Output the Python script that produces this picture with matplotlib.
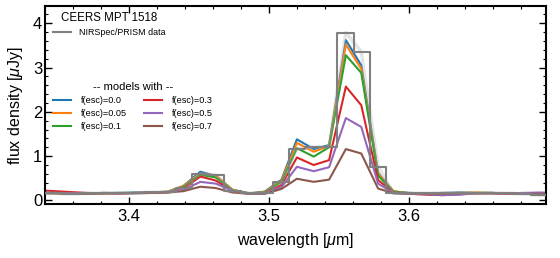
import matplotlib
import numpy as np

matplotlib.use('Agg')
import matplotlib.pyplot as plt
from matplotlib.ticker import MultipleLocator

plt.rcParams['font.family'] = ['Liberation Sans', 'DejaVu Sans']
plt.rcParams['mathtext.fontset'] = 'custom'
plt.rcParams['mathtext.it'] = 'Liberation Sans:italic'
plt.rcParams['mathtext.rm'] = 'Liberation Sans'

# pixel centres (micron)
wave = [3.335, 3.347, 3.358, 3.370, 3.382, 3.393, 3.405, 3.416, 3.428, 3.439,
        3.451, 3.462, 3.474, 3.486, 3.497, 3.509, 3.520, 3.532, 3.543, 3.555,
        3.566, 3.578, 3.589, 3.601, 3.613, 3.624, 3.636, 3.647, 3.659, 3.670,
        3.682, 3.693, 3.705]

# NIRSpec/PRISM data (uJy)
flux_data = [0.16, 0.16, 0.15, 0.16, 0.16, 0.17, 0.17, 0.18, 0.19, 0.28,
             0.60, 0.58, 0.21, 0.16, 0.17, 0.41, 1.17, 1.20, 1.21, 3.79,
             3.36, 0.76, 0.17, 0.16, 0.16, 0.17, 0.17, 0.16, 0.17, 0.16,
             0.15, 0.12, 0.12]

# models for each escape fraction
fesc_labels = ['f(esc)=0.0', 'f(esc)=0.05', 'f(esc)=0.1',
               'f(esc)=0.3', 'f(esc)=0.5', 'f(esc)=0.7']
model_f00 = [0.17, 0.17, 0.16, 0.16, 0.17, 0.17, 0.18, 0.18, 0.20, 0.33,
             0.65, 0.55, 0.24, 0.16, 0.20, 0.47, 1.38, 1.16, 1.25, 3.62,
             3.05, 0.62, 0.20, 0.17, 0.16, 0.17, 0.18, 0.17, 0.17, 0.16,
             0.16, 0.15, 0.15]
model_f005 = [0.17, 0.16, 0.15, 0.16, 0.17, 0.16, 0.17, 0.18, 0.20, 0.33,
              0.61, 0.56, 0.24, 0.16, 0.19, 0.45, 1.30, 1.10, 1.23, 3.52,
              2.97, 0.60, 0.21, 0.16, 0.15, 0.16, 0.17, 0.18, 0.17, 0.16,
              0.17, 0.16, 0.15]
model_f01 = [0.18, 0.17, 0.16, 0.15, 0.16, 0.17, 0.17, 0.18, 0.19, 0.31,
             0.58, 0.52, 0.23, 0.16, 0.18, 0.42, 1.18, 0.99, 1.20, 3.28,
             2.88, 0.56, 0.20, 0.16, 0.16, 0.16, 0.17, 0.17, 0.17, 0.16,
             0.16, 0.15, 0.15]
model_f03 = [0.23, 0.21, 0.19, 0.17, 0.16, 0.16, 0.17, 0.17, 0.18, 0.27,
             0.54, 0.45, 0.21, 0.15, 0.17, 0.35, 0.97, 0.80, 0.91, 2.57,
             2.15, 0.46, 0.18, 0.15, 0.13, 0.12, 0.14, 0.16, 0.16, 0.15,
             0.16, 0.16, 0.15]
model_f05 = [0.18, 0.17, 0.16, 0.16, 0.17, 0.16, 0.17, 0.18, 0.19, 0.24,
             0.42, 0.38, 0.22, 0.15, 0.16, 0.30, 0.76, 0.66, 0.75, 1.86,
             1.66, 0.38, 0.17, 0.15, 0.14, 0.12, 0.13, 0.16, 0.17, 0.16,
             0.17, 0.18, 0.17]
model_f07 = [0.16, 0.16, 0.15, 0.15, 0.16, 0.16, 0.16, 0.17, 0.18, 0.21,
             0.31, 0.28, 0.18, 0.15, 0.15, 0.26, 0.49, 0.42, 0.47, 1.16,
             1.06, 0.27, 0.16, 0.15, 0.15, 0.15, 0.16, 0.16, 0.16, 0.16,
             0.15, 0.15, 0.15]
models = [model_f00, model_f005, model_f01, model_f03, model_f05, model_f07]
colors = ['tab:blue', 'tab:orange', 'tab:green', 'tab:red', 'tab:purple', 'tab:brown']

fig = plt.figure(figsize=(5.6, 2.58), dpi=100)
ax = fig.add_axes([45 / 560, 54 / 258, 501 / 560, 198 / 258])

model_lines = []
for m, c, lab in zip(models, colors, fesc_labels):
    ln, = ax.plot(wave, m, color=c, lw=1.5, label=lab, zorder=2)
    model_lines.append(ln)

# faint unbinned trace of the data plus the stepped spectrum
ax.plot(wave, flux_data, color='0.65', lw=2.5, alpha=0.3, zorder=3)
data_line, = ax.plot(wave, flux_data, drawstyle='steps-mid', color='0.5',
                     lw=1.5, label='NIRSpec/PRISM data', zorder=4)

ax.set_xlim(3.34, 3.698)
ax.set_ylim(-0.08, 4.39)
ax.xaxis.set_major_locator(MultipleLocator(0.1))
ax.xaxis.set_minor_locator(MultipleLocator(0.02))
ax.yaxis.set_major_locator(MultipleLocator(1))
ax.yaxis.set_minor_locator(MultipleLocator(0.2))
ax.tick_params(which='both', direction='in', top=True, right=True, labelsize=12)
ax.tick_params(which='major', length=5, width=1)
ax.tick_params(which='minor', length=2.5, width=0.8)
ax.tick_params(axis='y', pad=2)
for sp in ax.spines.values():
    sp.set_linewidth(1.5)

ax.set_xlabel(r'wavelength [$\mu$m]', fontsize=11.5, labelpad=5)
ax.set_ylabel(r'flux density [$\mu$Jy]', fontsize=11.5, labelpad=6)

leg1 = ax.legend(handles=[data_line], loc='upper left', bbox_to_anchor=(0.016, 0.97),
                 frameon=False, prop={'size': 6.4}, title='CEERS MPT 1518',
                 borderpad=0, borderaxespad=0, handlelength=2.0, handletextpad=0.9)
leg1.get_title().set_fontsize(8.3)
ax.add_artist(leg1)
leg2 = ax.legend(handles=model_lines, loc='upper left', bbox_to_anchor=(0.016, 0.618),
                 frameon=False, ncol=2, prop={'size': 6.6}, title='-- models with --',
                 borderpad=0, borderaxespad=0, handlelength=2.0, handletextpad=1.0,
                 columnspacing=1.9, labelspacing=0.45)
leg2.get_title().set_fontsize(8)

fig.savefig('out.png', dpi=100)
